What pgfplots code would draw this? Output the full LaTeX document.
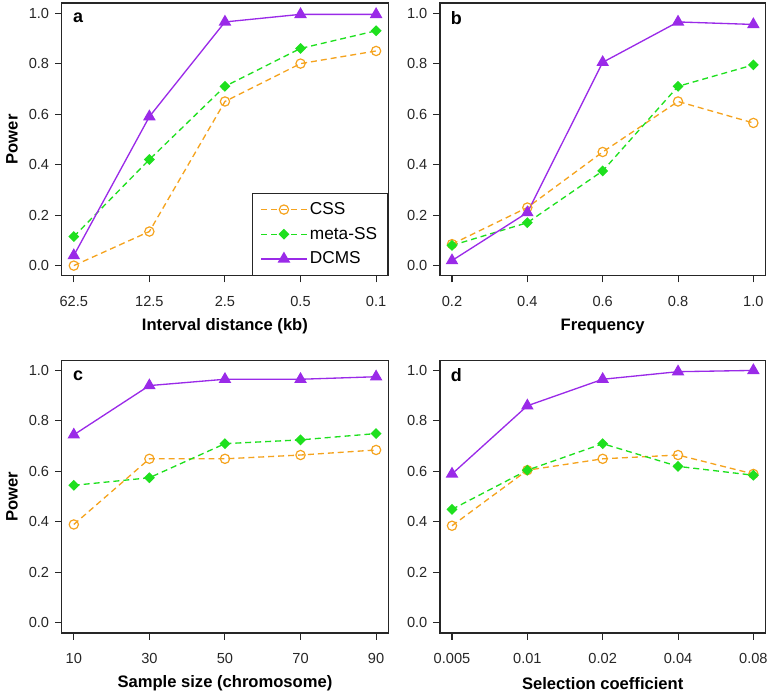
\documentclass[border=0pt]{standalone}
\usepackage{pgfplots}
\pgfplotsset{compat=1.18}
\usepackage{fontspec}
\setmainfont{Liberation Sans}
\definecolor{cssc}{HTML}{F5A31E}
\definecolor{metac}{HTML}{1EE01E}
\definecolor{dcmsc}{HTML}{9A2AE8}
\pgfplotsset{
 panel/.style={
  scale only axis, width=246pt, height=205.5pt,
  xmin=0.84, xmax=5.16, ymin=-0.04, ymax=1.04,
  xtick={1,2,3,4,5}, ytick={0,0.2,0.4,0.6,0.8,1.0},
  yticklabels={0.0,0.2,0.4,0.6,0.8,1.0},
  tick align=outside, tick pos=left, major tick length=5pt,
  axis line style={line width=0.9pt, black!85},
  every tick/.style={black!85, line width=0.8pt},
  /pgf/number format/assume math mode=true,
  tick label style={font=\fontsize{11}{12}\selectfont, black!85},
  xticklabel style={yshift=-7pt},
  yticklabel style={xshift=-1pt},
  label style={font=\fontsize{12.5}{14}\selectfont\bfseries},
  xlabel style={at={(axis description cs:0.5,-0.185)}, anchor=center},
  ylabel style={at={(axis description cs:-0.152,0.5)}, anchor=center},
  clip=false,
 },
 css/.style={color=cssc, line width=1pt, dash pattern=on 4.5pt off 3pt, mark=o, mark size=3.5pt, mark options={solid, line width=0.9pt}},
 meta/.style={color=metac, line width=1pt, dash pattern=on 4.5pt off 3pt, mark=square*, mark size=2.4pt, mark options={solid, rotate=45}},
 dcms/.style={color=dcmsc, line width=1pt, solid, mark=triangle*, mark size=4.5pt, mark options={solid}},
}
\newcommand{\panellabel}[1]{\node[font=\fontsize{13.5}{15}\selectfont\bfseries, anchor=center] at (axis description cs:0.05,0.945) {#1};}
\begin{document}
\begin{tikzpicture}
\path (0pt,0pt) rectangle (579pt,-518.25pt);
% panel a
\begin{axis}[panel, at={(46.5pt,-207.75pt)}, anchor=south west,
  xticklabels={62.5,12.5,2.5,0.5,0.1},
  xlabel={Interval distance (kb)}, ylabel={Power},
  legend style={at={(axis description cs:1,0)}, anchor=south east, draw=black!85, line width=0.8pt,
    font=\fontsize{13}{15}\selectfont, row sep=4pt, inner xsep=6pt, inner ysep=5pt},
  legend cell align=left,
  legend image code/.code={\draw[mark repeat=2, mark phase=2] plot coordinates {(0cm,0cm) (0.6cm,0cm) (1.2cm,0cm)};}]
\addplot[css] coordinates {(1,0.0) (2,0.135) (3,0.65) (4,0.80) (5,0.85)};
\addplot[meta] coordinates {(1,0.115) (2,0.42) (3,0.71) (4,0.86) (5,0.93)};
\addplot[dcms] coordinates {(1,0.04) (2,0.59) (3,0.965) (4,0.995) (5,0.995)};
\legend{CSS, meta-SS, DCMS}
\panellabel{a}
\end{axis}
% panel b
\begin{axis}[panel, at={(331.5pt,-207.75pt)}, anchor=south west, width=245.25pt,
  xticklabels={0.2,0.4,0.6,0.8,1.0},
  xlabel={Frequency}]
\addplot[css] coordinates {(1,0.085) (2,0.23) (3,0.45) (4,0.65) (5,0.565)};
\addplot[meta] coordinates {(1,0.08) (2,0.17) (3,0.375) (4,0.71) (5,0.795)};
\addplot[dcms] coordinates {(1,0.02) (2,0.21) (3,0.805) (4,0.965) (5,0.955)};
\panellabel{b}
\end{axis}
% panel c
\begin{axis}[panel, at={(46.5pt,-477pt)}, anchor=south west,
  xticklabels={10,30,50,70,90},
  xlabel={Sample size (chromosome)}, ylabel={Power}]
\addplot[css] coordinates {(1,0.39) (2,0.65) (3,0.65) (4,0.665) (5,0.685)};
\addplot[meta] coordinates {(1,0.545) (2,0.575) (3,0.71) (4,0.725) (5,0.75)};
\addplot[dcms] coordinates {(1,0.745) (2,0.94) (3,0.965) (4,0.965) (5,0.975)};
\panellabel{c}
\end{axis}
% panel d
\begin{axis}[panel, at={(331.5pt,-477pt)}, anchor=south west, width=245.25pt,
  xticklabels={0.005,0.01,0.02,0.04,0.08},
  xlabel={Selection coefficient}]
\addplot[css] coordinates {(1,0.385) (2,0.605) (3,0.65) (4,0.665) (5,0.59)};
\addplot[meta] coordinates {(1,0.45) (2,0.605) (3,0.71) (4,0.62) (5,0.585)};
\addplot[dcms] coordinates {(1,0.59) (2,0.86) (3,0.965) (4,0.995) (5,1.0)};
\panellabel{d}
\end{axis}
\end{tikzpicture}
\end{document}
